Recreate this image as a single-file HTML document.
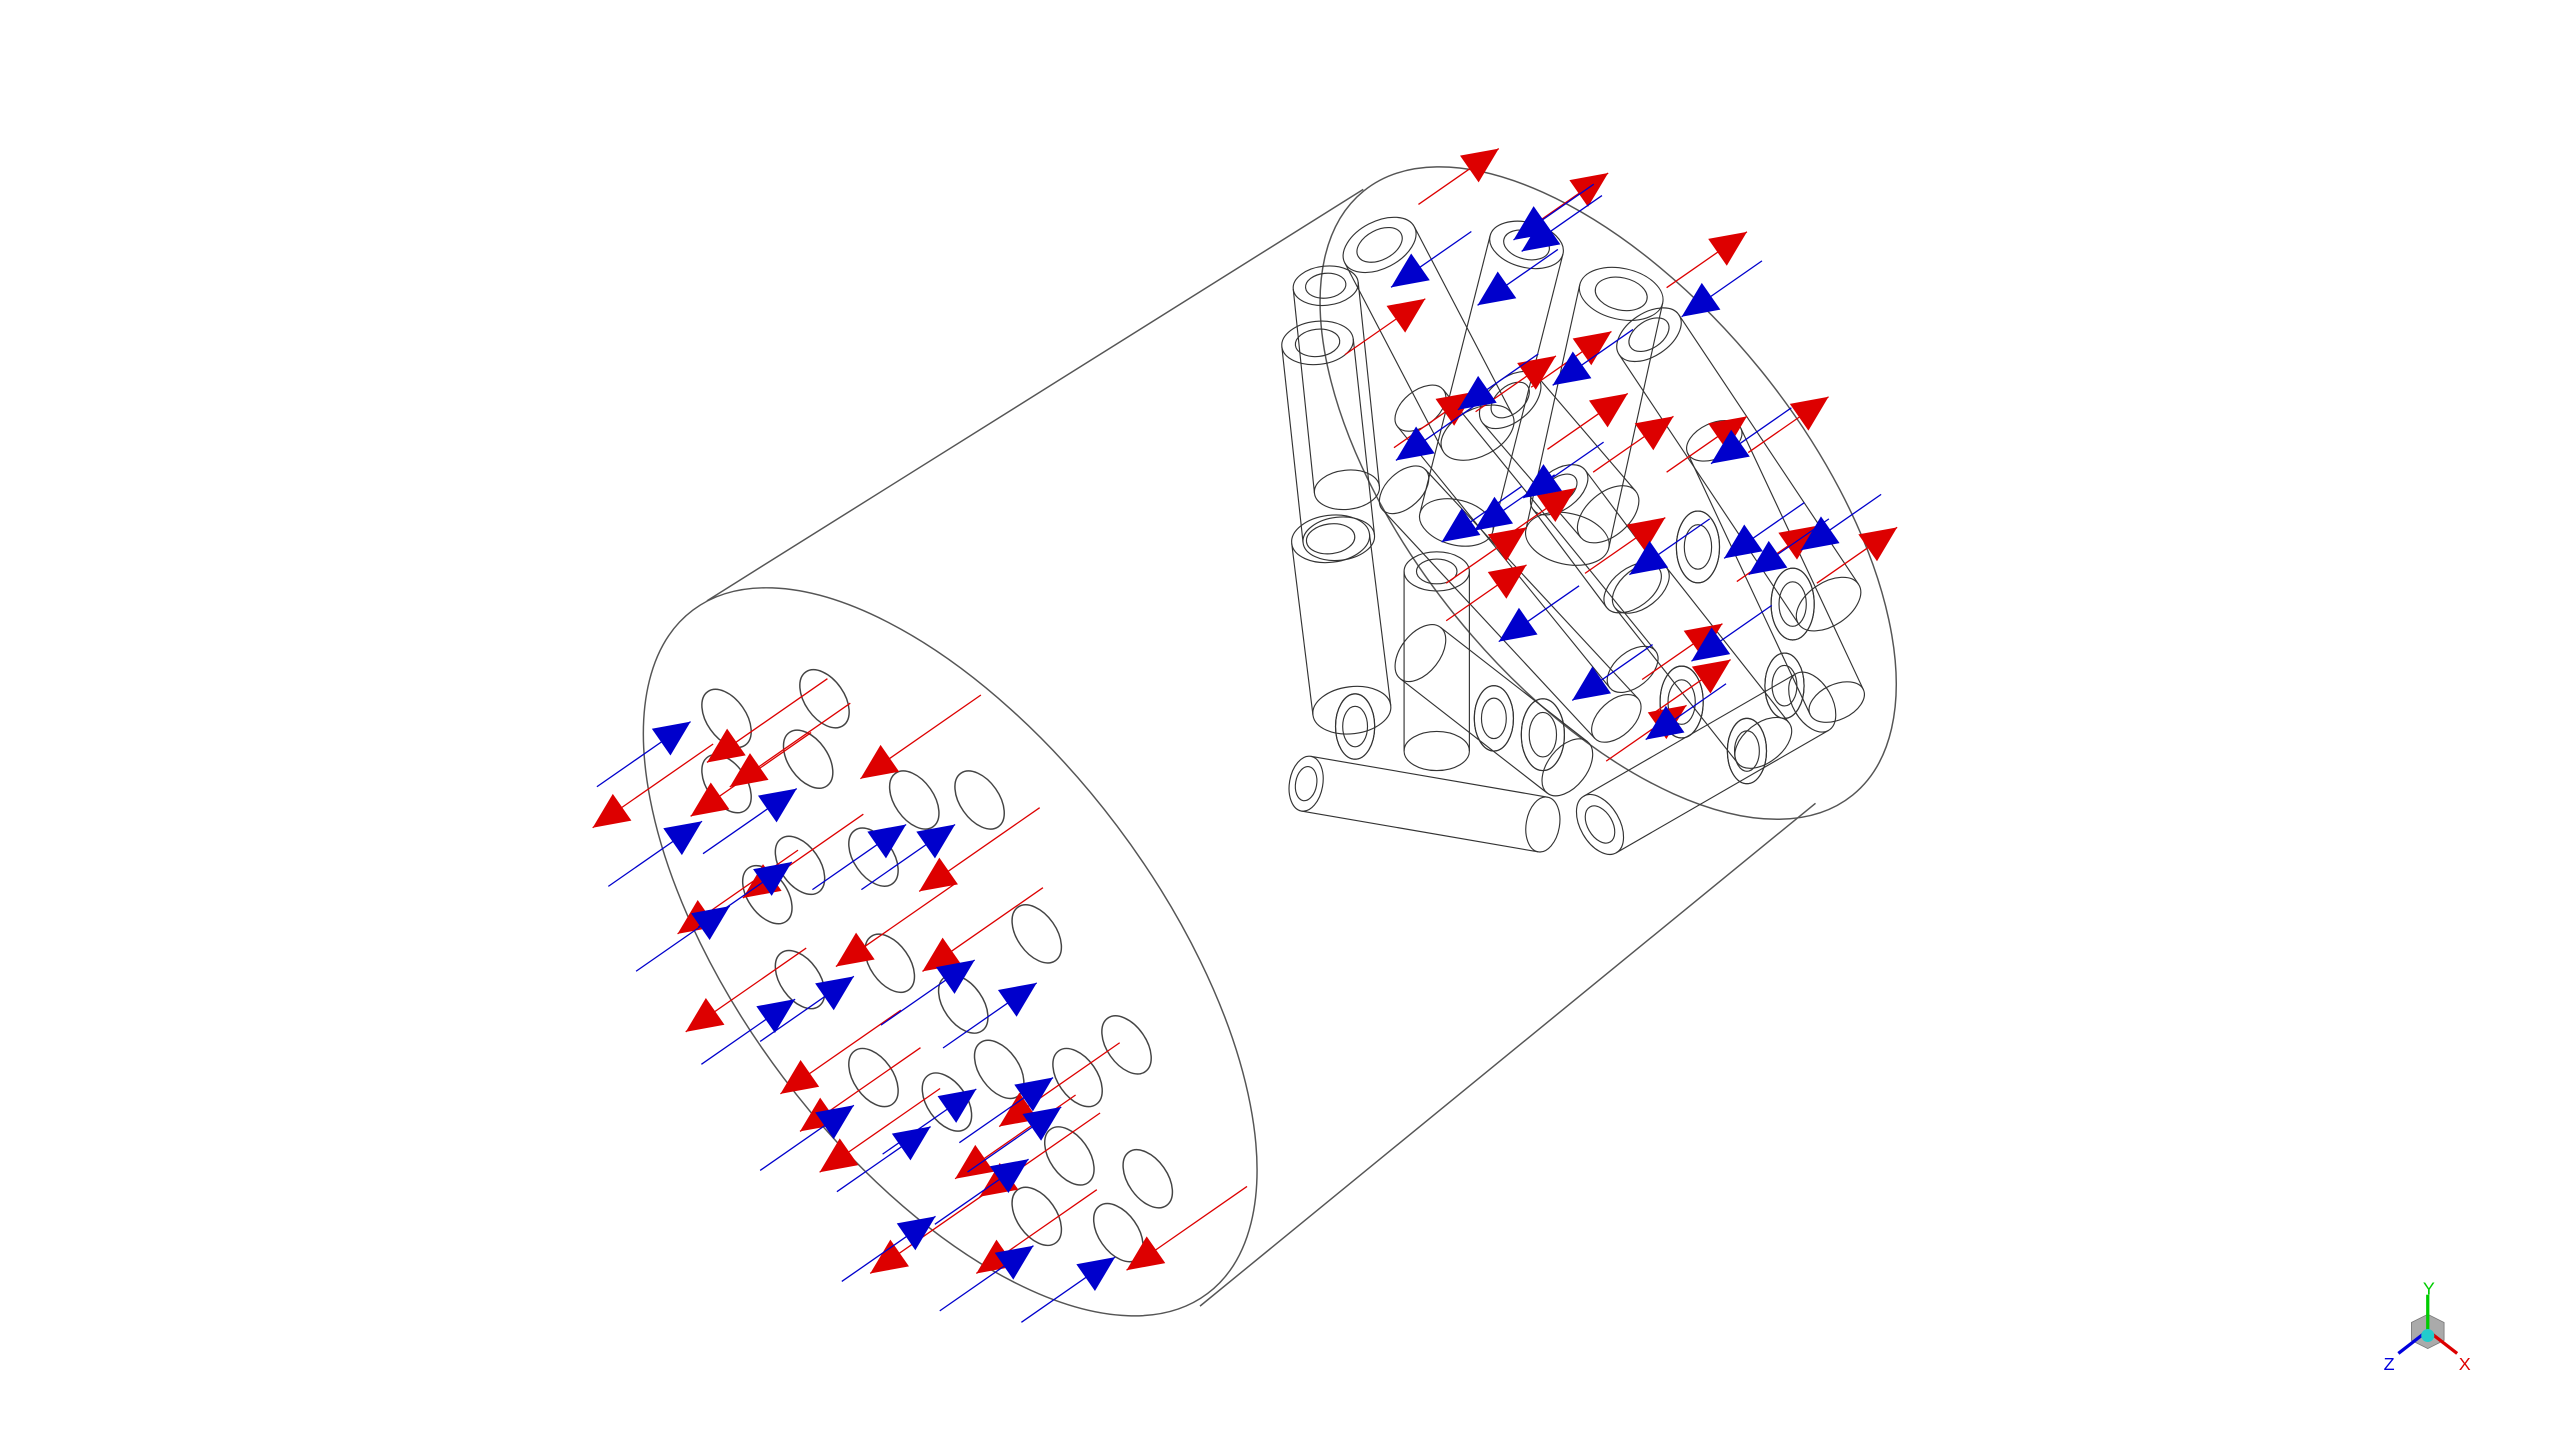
<!DOCTYPE html>
<html><head><meta charset="utf-8"><style>
html,body{margin:0;padding:0;background:#fff;width:2560px;height:1440px;overflow:hidden}
svg{display:block}
</style></head><body>
<svg id="s" width="2560" height="1440" viewBox="0 0 1568 882" xmlns="http://www.w3.org/2000/svg">
<g fill="none" stroke="#555" stroke-width="0.9">
<line x1="433" y1="368" x2="835" y2="116"/>
<line x1="735" y1="800" x2="1112" y2="492"/>
<ellipse cx="582" cy="583" rx="262" ry="128" transform="rotate(53 582 583)"/>
<ellipse cx="985" cy="302" rx="238" ry="120" transform="rotate(51 985 302)"/>
</g>
<g id="holes" fill="none" stroke="#444" stroke-width="0.9"></g>
<g id="tubes" fill="none" stroke="#333" stroke-width="0.7"></g>
<g id="arrows"></g>
<g transform="translate(1487,815)">
<polygon points="-10,-5 0,-10 10,-5 10,6 0,11 -10,6" fill="#aaa" stroke="#777" stroke-width="0.5"/>
<line x1="0" y1="0" x2="0" y2="-22" stroke="#0c0" stroke-width="2"/>
<text x="-3" y="-22" font-size="11" fill="#0c0" font-family="Liberation Sans, sans-serif">Y</text>
<line x1="0" y1="0" x2="18" y2="14" stroke="#d00" stroke-width="2"/>
<text x="19" y="24" font-size="11" fill="#d00" font-family="Liberation Sans, sans-serif">X</text>
<line x1="0" y1="0" x2="-18" y2="14" stroke="#00d" stroke-width="2"/>
<text x="-27" y="24" font-size="11" fill="#00d" font-family="Liberation Sans, sans-serif">Z</text>
<circle cx="0" cy="3" r="4" fill="#2cc"/>
</g>
</svg>
<script>
var NS="http://www.w3.org/2000/svg";
function el(p,t,a){var e=document.createElementNS(NS,t);for(var k in a)e.setAttribute(k,a[k]);p.appendChild(e);return e;}
var dx=0.82,dy=-0.57;
var H=document.getElementById('holes');
[[505,428],[495,465],[445,440],[470,548],[490,530],[560,490],[600,490],[535,525],[545,590],[635,572],[490,600],[535,660],[580,675],[612,655],[660,660],[690,640],[655,708],[703,722],[635,745],[685,755],[445,480],[590,615]].forEach(function(p){
 el(H,'ellipse',{cx:p[0],cy:p[1],rx:12,ry:20,transform:'rotate(-35 '+p[0]+' '+p[1]+')'});
});
var T=document.getElementById('tubes');
function cyl(x1,y1,x2,y2,r,inner){
 var ax=x2-x1,ay=y2-y1,L=Math.sqrt(ax*ax+ay*ay)||1,ux=ax/L,uy=ay/L,px=-uy,py=ux;
 var ang=Math.atan2(ay,ax)*180/Math.PI+90;
 el(T,'ellipse',{cx:x1,cy:y1,rx:r,ry:r*0.6,transform:'rotate('+ang+' '+x1+' '+y1+')'});
 if(inner)el(T,'ellipse',{cx:x1,cy:y1,rx:r*0.62,ry:r*0.38,transform:'rotate('+ang+' '+x1+' '+y1+')'});
 el(T,'ellipse',{cx:x2,cy:y2,rx:r,ry:r*0.6,transform:'rotate('+ang+' '+x2+' '+y2+')'});
 el(T,'line',{x1:x1+px*r,y1:y1+py*r,x2:x2+px*r,y2:y2+py*r});
 el(T,'line',{x1:x1-px*r,y1:y1-py*r,x2:x2-px*r,y2:y2-py*r});
}
[
[845,150,905,265,24,1],[935,150,892,320,23,1],[993,180,960,330,26,1],[812,175,825,300,20,1],
[807,210,820,330,22,1],[815,330,828,435,24,1],[830,445,830,445,20,1],
[800,480,945,505,17,1],[980,505,1110,430,20,1],
[870,250,1000,410,18,0],[860,300,990,440,18,0],[1010,205,1120,370,22,1],[1050,270,1125,430,18,0],
[925,245,985,315,22,1],[955,300,1000,360,20,1],[880,350,880,460,20,1],[945,450,945,450,22,1],
[915,440,915,440,20,1],[1030,430,1030,430,22,1],[1070,460,1070,460,20,1],[1098,370,1098,370,22,1],
[1093,420,1093,420,20,1],[1040,335,1040,335,22,1],[870,400,960,470,20,0],[1005,360,1080,455,20,0]
].forEach(function(p){cyl(p[0],p[1],p[2],p[3],p[4],p[5]);});
var A=document.getElementById('arrows');
function arrow(x,y,col,dir,len){
 var ux=dx*dir,uy=dy*dir,px=-uy,py=ux,s=22;
 el(A,'line',{x1:x-ux*len,y1:y-uy*len,x2:x,y2:y,stroke:col,'stroke-width':0.8});
 var bx=x-ux*s,by=y-uy*s;
 el(A,'polygon',{points:(x)+','+(y)+' '+(bx+px*10)+','+(by+py*10)+' '+(bx-px*10)+','+(by-py*10),fill:col});
}
var R='#dd0000',B='#0000cc';
[[363,507],[433,467],[447,482],[423,500],[527,477],[563,546],[455,550],[415,572],[420,632],[512,592],[565,595],[478,670],[490,693],[502,718],[612,690],[585,722],[600,733],[533,780],[598,780],[690,778]].forEach(function(p){arrow(p[0],p[1],R,-1,90);});
[[423,442],[488,483],[555,505],[585,505],[430,503],[485,528],[447,555],[523,598],[487,612],[597,588],[635,602],[523,677],[570,690],[598,667],[645,660],[650,678],[630,710],[573,745],[633,763],[683,770]].forEach(function(p){arrow(p[0],p[1],B,1,70);});
[[918,91],[985,106],[1070,142],[873,183],[953,218],[987,203],[903,240],[997,241],[1025,255],[1070,255],[1120,243],[965,299],[935,323],[1020,317],[935,346],[1113,322],[1162,323],[1055,382],[1060,404],[1033,432]].forEach(function(p){arrow(p[0],p[1],R,1,60);});
[[927,147],[932,154],[852,176],[905,187],[1030,194],[951,236],[893,251],[855,282],[1048,284],[933,305],[903,325],[883,332],[998,352],[1056,342],[1071,352],[1103,337],[918,393],[1036,405],[963,429],[1008,453]].forEach(function(p){arrow(p[0],p[1],B,-1,60);});
</script>
</body></html>
